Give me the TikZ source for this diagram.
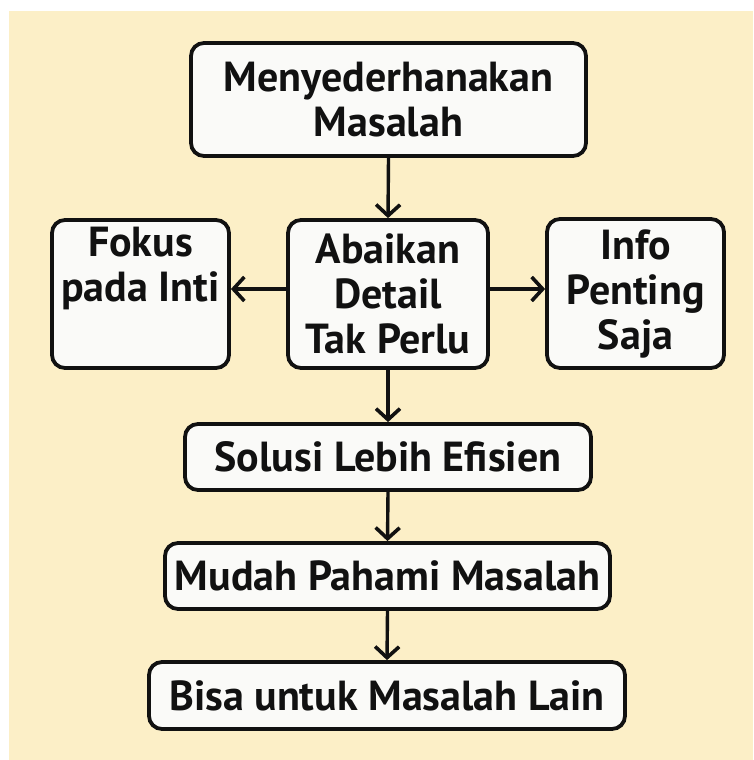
\documentclass[tikz,border=0pt]{standalone}
\usepackage{fontspec}
\setmainfont{PT Sans}
\usetikzlibrary{arrows.meta}
\definecolor{paper}{HTML}{FCEFC7}
\definecolor{boxfill}{HTML}{FAFAF8}
\definecolor{ink}{HTML}{111111}
\begin{document}
\begin{tikzpicture}[x=1pt,y=-1pt,
  card/.style={draw=ink, fill=boxfill, line width=3.8pt, rounded corners=13pt,
    inner sep=0pt, align=center, font=\bfseries\fontsize{42}{45}\selectfont, text=ink},
  flow/.style={draw=ink, line width=3.4pt,
    -{Straight Barb[length=11pt,width=24pt,line width=3.6pt]}}]
  % canvas
  \useasboundingbox (0,0) rectangle (753,760);
  \fill[white] (0,0) rectangle (753,760);
  \fill[paper] (9,11) rectangle (753,760);

  % boxes
  \node[card, minimum width=395pt, minimum height=113pt] (top) at (388.5,99.5)
    {Menyederhanakan\\Masalah};
  \node[card, minimum width=177pt, minimum height=148pt] (fokus) at (140.5,294)
    {Fokus\\pada Inti\\\strut};
  \node[card, minimum width=200pt, minimum height=148pt] (abaikan) at (388,294)
    {Abaikan\\Detail\\Tak Perlu};
  \node[card, minimum width=177pt, minimum height=149pt] (info) at (635.5,293.5)
    {Info\\Penting\\Saja};
  \node[card, minimum width=406pt, minimum height=66pt] (solusi) at (388,457)
    {Solusi Lebih Efisien};
  \node[card, minimum width=445pt, minimum height=66pt] (mudah) at (387.5,576)
    {Mudah Pahami Masalah};
  \node[card, minimum width=476pt, minimum height=67pt] (bisa) at (387,695.5)
    {Bisa untuk Masalah Lain};

  % connectors
  \draw[flow] (top.south) -- (abaikan.north);
  \draw[flow] (abaikan.west |- 0,289) -- (fokus.east |- 0,289);
  \draw[flow] (abaikan.east |- 0,289) -- (info.west |- 0,289);
  \draw[flow] (abaikan.south) -- (solusi.north);
  \draw[flow] (solusi.south) -- (mudah.north);
  \draw[flow] (mudah.south) -- (bisa.north);
\end{tikzpicture}
\end{document}
